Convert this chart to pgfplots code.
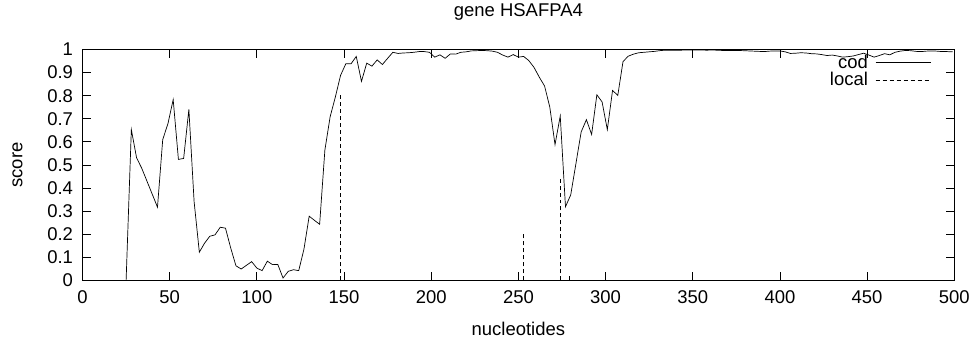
\documentclass[border=0pt]{standalone}
\usepackage{fontspec}
\setmainfont{Liberation Sans}
\usepackage{pgfplots}
\pgfplotsset{compat=1.18}
\newcommand\F{\fontsize{18.5}{22}\selectfont}
\begin{document}
\begin{tikzpicture}[font=\F]
\begin{axis}[
  scale only axis,
  width=873.6pt, height=231.3pt,
  xmin=0, xmax=500, ymin=0, ymax=1,
  xtick={0,50,...,500},
  ytick={0,0.1,0.2,0.3,0.4,0.5,0.6,0.7,0.8,0.9,1},
  yticklabels={0,0.1,0.2,0.3,0.4,0.5,0.6,0.7,0.8,0.9,1},
  /pgf/number format/assume math mode=true,
  tick label style={font=\F},
  label style={font=\F},
  tick align=inside,
  major tick length=8pt,
  tick style={line width=0.8pt, black},
  axis line style={line width=1.2pt},
  xticklabel style={yshift=-7pt},
  yticklabel style={xshift=-6pt},
  title={gene HSAFPA4},
  title style={font=\F, at={(axis description cs:0.5,1.138)}, anchor=center},
  xlabel={nucleotides},
  xlabel style={at={(axis description cs:0.5,-0.21)}, anchor=center},
  ylabel={score},
  ylabel style={at={(axis description cs:-0.0746,0.5)}, anchor=center, rotate=0},
  unbounded coords=jump,
  legend plot pos=right,
  legend cell align=right,
  legend style={font=\F, draw=none, fill=none, at={(axis description cs:0.9735,0.985)}, anchor=north east,
    inner sep=0pt, row sep=0pt, column sep=6pt, nodes={inner sep=1.5pt}},
  legend image code/.code={\draw[#1] (0pt,0pt) -- (55pt,0pt);},
]
\addplot[black, line width=0.7pt] coordinates {
(25,0) (28,0.653) (31,0.531) (34,0.485) (37,0.429) (40,0.373) (43,0.317)
(46,0.61) (49,0.679) (52,0.783) (55,0.524) (58,0.528) (61,0.741) (64,0.341)
(67,0.122) (70,0.161) (73,0.191) (76,0.197) (79,0.230) (82,0.226) (85,0.14)
(88,0.063) (91,0.049) (94,0.065) (97,0.081) (100,0.053) (103,0.042) (106,0.083)
(109,0.068) (112,0.069) (115,0.01) (118,0.039) (121,0.046) (124,0.042) (127,0.135)
(130,0.278) (133,0.26) (136,0.243) (139,0.564) (142,0.708) (145,0.794) (148,0.888)
(151,0.938) (154,0.938) (157,0.97) (160,0.862) (163,0.941) (166,0.928) (169,0.955)
(172,0.935) (175,0.962) (178,0.988) (181,0.983) (184,0.985) (187,0.986) (190,0.988)
(193,0.991) (196,0.991) (199,0.988) (202,0.967) (205,0.977) (208,0.962) (211,0.981)
(214,0.980) (217,0.988) (220,0.990) (223,0.994) (226,0.995) (229,0.996) (232,0.995)
(235,0.993) (238,0.988) (241,0.976) (244,0.967) (247,0.978) (250,0.967) (253,0.970)
(256,0.952) (259,0.922) (262,0.880) (265,0.842) (268,0.751) (271,0.588) (274,0.712)
(277,0.319) (280,0.37) (283,0.506) (286,0.643) (289,0.696) (292,0.632) (295,0.804)
(298,0.773) (301,0.653) (304,0.823) (307,0.801) (310,0.948) (313,0.971) (316,0.980)
(319,0.986) (322,0.988) (325,0.990) (328,0.992) (331,0.995) (334,0.997) (337,0.997)
(340,0.997) (343,0.997) (346,0.998) (349,0.998) (352,0.998) (355,0.998) (358,0.997)
(361,0.998) (364,0.997) (367,0.996) (370,0.996) (373,0.996) (376,0.996) (379,0.995)
(382,0.994) (385,0.993) (388,0.992) (391,0.991) (394,0.993) (397,0.994) (400,0.994)
(403,0.990) (406,0.983) (409,0.984) (412,0.986) (415,0.985) (418,0.982) (421,0.981)
(424,0.978) (427,0.974) (430,0.976) (433,0.972) (436,0.967) (439,0.969) (442,0.972)
(445,0.978) (448,0.984) (451,0.976) (454,0.967) (457,0.974) (460,0.982) (463,0.977)
(466,0.988) (469,0.993) (472,0.996) (475,0.995) (478,0.992) (481,0.991) (484,0.993)
(487,0.994) (490,0.993) (493,0.991) (496,0.991) (499,0.990)
};
\addlegendentry{cod}
\addplot[black, line width=0.7pt, dash pattern=on 4pt off 3pt] coordinates {
(148.1,0) (148.1,0.809) (148.1,nan)
(252.9,0) (252.9,0.201) (252.9,nan)
(273.8,0) (273.8,0.442) (273.8,nan)
(279.5,0) (279.5,0.024)
};
\addlegendentry{local}
\end{axis}
\path[use as bounding box] ([xshift=-82.7pt,yshift=-60.7pt]current axis.south west) rectangle ([xshift=16.7pt,yshift=44pt]current axis.north east);
\end{tikzpicture}
\end{document}
